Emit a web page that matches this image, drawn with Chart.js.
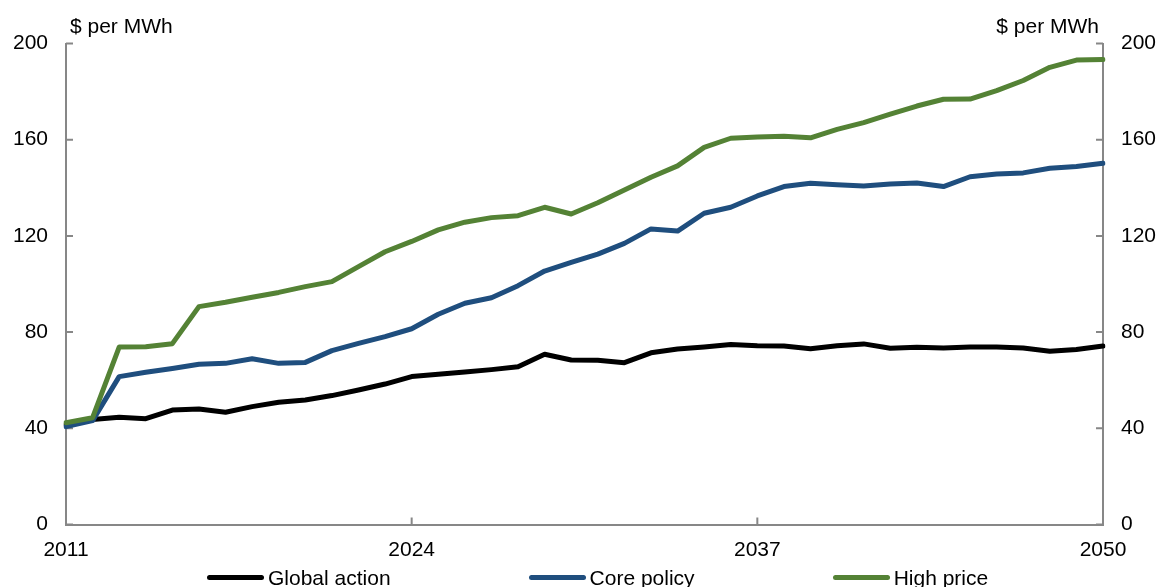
<!DOCTYPE html>
<html>
<head>
<meta charset="utf-8">
<script src="https://cdn.jsdelivr.net/npm/chart.js@4.4.1/dist/chart.umd.min.js"></script>
<style>
  html, body { margin: 0; padding: 0; background: #ffffff; overflow: hidden; }
  #wrap { position: relative; width: 1160px; height: 587px; overflow: hidden; }
  #legend { position: absolute; left: 207px; top: 567px; height: 21px; display: flex; gap: 138px;
            font-family: "Liberation Sans", Arial, sans-serif; font-size: 21px; line-height: 21px; color: #000; white-space: nowrap; }
  .item { display: flex; align-items: center; }
  .mark { width: 57px; height: 5px; border-radius: 3px; margin-right: 4px; }
</style>
</head>
<body>
<div id="wrap">
  <canvas id="c"></canvas>
  <div id="legend"></div>
</div>
<script>
const years = [];
for (let y = 2011; y <= 2050; y++) years.push(String(y));

const seriesNames = ["Global action", "Core policy", "High price"];
const seriesColors = ["#000000", "#1f4e7e", "#548235"];

const globalAction = [41.5, 43.7, 44.6, 44.0, 47.6, 48.0, 46.7, 49.0, 50.8, 51.8,
  53.6, 55.9, 58.4, 61.5, 62.5, 63.4, 64.4, 65.6, 70.8, 68.4,
  68.3, 67.3, 71.4, 73.0, 73.8, 74.8, 74.3, 74.2, 73.1, 74.3,
  75.1, 73.3, 73.7, 73.4, 73.8, 73.8, 73.4, 72.0, 72.8, 74.2];

const corePolicy = [40.7, 43.2, 61.5, 63.3, 64.9, 66.6, 67.0, 68.9, 67.0, 67.4,
  72.3, 75.3, 78.1, 81.4, 87.4, 92.0, 94.3, 99.3, 105.4, 109.0,
  112.4, 116.9, 122.9, 122.0, 129.4, 131.9, 136.6, 140.5, 141.9, 141.3,
  140.7, 141.6, 142.0, 140.5, 144.6, 145.7, 146.2, 148.1, 148.9, 150.2];

const highPrice = [42.3, 44.4, 73.8, 73.9, 75.2, 90.6, 92.4, 94.5, 96.5, 98.9,
  101.0, 107.2, 113.4, 117.7, 122.5, 125.7, 127.6, 128.4, 131.9, 129.1,
  133.8, 139.1, 144.4, 149.1, 156.8, 160.6, 161.1, 161.4, 160.8, 164.3,
  167.1, 170.6, 174.0, 176.8, 176.9, 180.4, 184.6, 190.1, 193.1, 193.3];

const yTicks = [0, 40, 80, 120, 160, 200];
const xTickLabels = ["2011", "2024", "2037", "2050"];
const unitLabel = "$ per MWh";

const AXIS_GREY = "#878787";
const FONT = "\"Liberation Sans\", Arial, sans-serif";

const seriesValues = [globalAction, corePolicy, highPrice];

const tickPlugin = {
  id: "innerTicks",
  beforeDatasetsDraw(chart) {
    const ctx = chart.ctx;
    const yL = chart.scales.y, yR = chart.scales.y2, x = chart.scales.x;
    const area = chart.chartArea;
    ctx.save();
    ctx.strokeStyle = AXIS_GREY;
    ctx.lineWidth = 2;
    ctx.beginPath();
    yTicks.forEach(v => {
      const py = yL.getPixelForValue(v);
      ctx.moveTo(area.left, py); ctx.lineTo(area.left + 7, py);
      const pr = yR.getPixelForValue(v);
      ctx.moveTo(area.right, pr); ctx.lineTo(area.right - 7, pr);
    });
    xTickLabels.forEach(lbl => {
      const px = x.getPixelForValue(years.indexOf(lbl));
      ctx.moveTo(px, area.bottom); ctx.lineTo(px, area.bottom - 7);
    });
    ctx.stroke();
    ctx.restore();
  },
  afterDraw(chart) {
    const ctx = chart.ctx;
    const area = chart.chartArea;
    ctx.save();
    ctx.fillStyle = "#000";
    ctx.font = "21px " + FONT;
    ctx.textBaseline = "alphabetic";
    ctx.textAlign = "left";
    ctx.fillText(unitLabel, area.left + 4, 33);
    ctx.textAlign = "right";
    ctx.fillText(unitLabel, area.right - 4, 33);
    ctx.restore();
  }
};

const datasets = seriesNames.map((name, i) => ({
  label: name,
  data: seriesValues[i],
  borderColor: seriesColors[i],
  backgroundColor: seriesColors[i],
  borderWidth: 5,
  pointRadius: 0,
  pointHoverRadius: 0,
  tension: 0,
  fill: false,
  borderJoinStyle: "round",
  borderCapStyle: "round",
  order: seriesNames.length - i,
  yAxisID: "y"
}));

Chart.defaults.font.family = FONT;
Chart.defaults.font.size = 21;
Chart.defaults.color = "#000";

new Chart(document.getElementById("c"), {
  type: "line",
  data: { labels: years, datasets },
  options: {
    responsive: true,
    maintainAspectRatio: false,
    animation: false,
    devicePixelRatio: 1,
    layout: { padding: { top: 43.5, left: 0, right: 0, bottom: 0 } },
    plugins: { legend: { display: false }, tooltip: { enabled: false }, title: { display: false } },
    scales: {
      x: {
        type: "category",
        offset: false,
        grid: { display: true, drawOnChartArea: false, drawTicks: false },
        border: { display: true, color: AXIS_GREY, width: 2 },
        ticks: {
          autoSkip: false, maxRotation: 0, minRotation: 0, padding: 13,
          callback: function (value, index) {
            const lbl = years[index];
            return xTickLabels.includes(lbl) ? lbl : "";
          }
        },
        afterFit: s => { s.height = 62.5; }
      },
      y: {
        position: "left",
        min: 0, max: 200,
        grid: { display: true, drawOnChartArea: false, drawTicks: false },
        border: { display: true, color: AXIS_GREY, width: 2 },
        ticks: { stepSize: 40, padding: 18 },
        afterBuildTicks: s => { s.ticks = yTicks.map(v => ({ value: v })); },
        afterFit: s => { s.width = 66; }
      },
      y2: {
        position: "right",
        min: 0, max: 200,
        grid: { display: true, drawOnChartArea: false, drawTicks: false },
        border: { display: true, color: AXIS_GREY, width: 2 },
        ticks: { stepSize: 40, padding: 18 },
        afterBuildTicks: s => { s.ticks = yTicks.map(v => ({ value: v })); },
        afterFit: s => { s.width = 57; }
      }
    }
  },
  plugins: [tickPlugin]
});

const legend = document.getElementById("legend");
seriesNames.forEach((name, i) => {
  const item = document.createElement("div");
  item.className = "item";
  const mark = document.createElement("span");
  mark.className = "mark";
  mark.style.background = seriesColors[i];
  const txt = document.createElement("span");
  txt.textContent = name;
  item.appendChild(mark);
  item.appendChild(txt);
  legend.appendChild(item);
});
</script>
</body>
</html>
